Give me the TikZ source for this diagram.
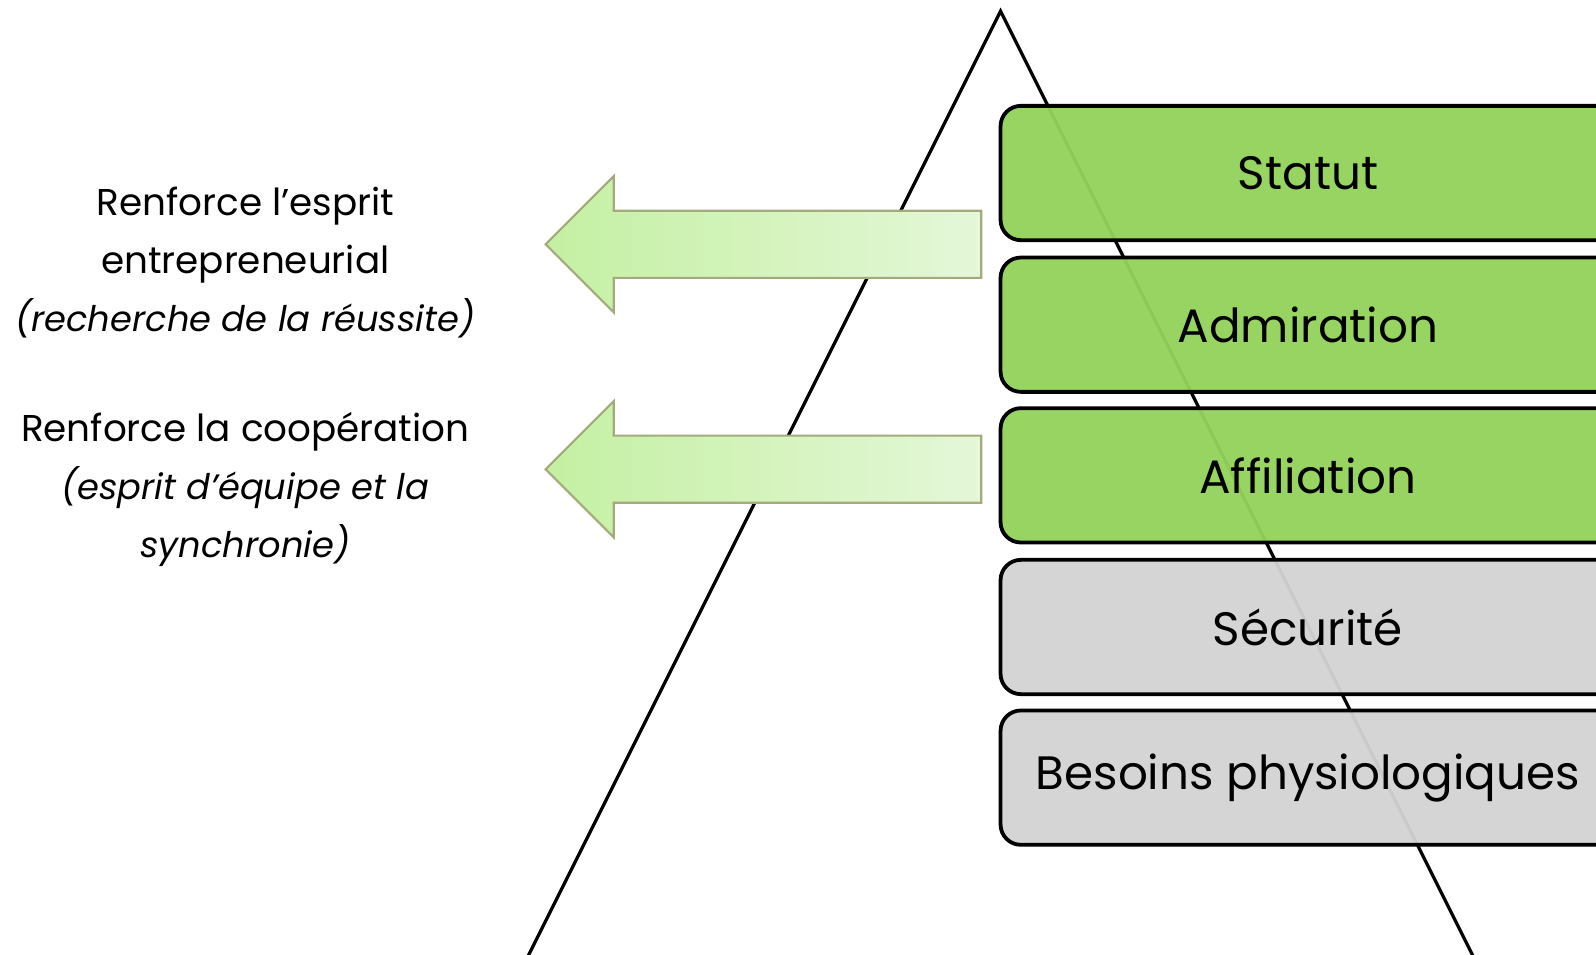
\documentclass[tikz,border=0pt]{standalone}
\usepackage{fontspec}
\setmainfont{Poppins}
\begin{document}
\begin{tikzpicture}[x=0.75pt,y=-0.75pt,
  level/.style={draw=black,line width=2.8pt,rounded corners=15pt,fill opacity=0.96},
  greenlvl/.style={level,fill=boxgreen},
  graylvl/.style={level,fill=boxgray},
  lbl/.style={font=\fontsize{34.5}{40}\selectfont,text=black},
  side/.style={align=center,font=\fontsize{27.5}{42.75}\selectfont},
  bigarrow/.style={draw=arrowedge,line width=1.6pt,shading angle=60,left color=arrowL,right color=arrowR,line join=miter}
]
\definecolor{boxgreen}{RGB}{148,210,92}
\definecolor{boxgray}{RGB}{211,211,211}
\definecolor{arrowL}{RGB}{196,240,162}
\definecolor{arrowR}{RGB}{228,247,216}
\definecolor{arrowedge}{RGB}{164,170,124}
\newcommand{\itl}[1]{{\fontsize{26}{42.75}\selectfont\itshape #1}}
\useasboundingbox (0,0) rectangle (1568,938);
\clip (0,0) rectangle (1568,938);
% triangle
\coordinate (apex) at (983,11);
\coordinate (bl) at (511,955);
\coordinate (br) at (1455,955);
\draw[line width=2.4pt,line join=miter] (bl) -- (apex) -- (br);
% levels
\draw[greenlvl] (983,104) rectangle (1640,236);
\draw[greenlvl] (983,253) rectangle (1640,385);
\draw[greenlvl] (983,401) rectangle (1640,533);
\draw[graylvl] (983,550) rectangle (1640,682);
\draw[graylvl] (983,698) rectangle (1640,830);
\node[lbl] (t1) at (1285,170) {Statut};
\node[lbl] (t2) at (1285,319) {Admiration};
\node[lbl] (t3) at (1285,467) {Affiliation};
\node[lbl] (t4) at (1285,616) {Sécurité};
\node[lbl] (t5) at (1285,764) {Besoins physiologiques};
% arrows
\draw[bigarrow] (964,207) -- (603,207) -- (603,173) -- (536,240) -- (603,307) -- (603,273) -- (964,273) -- cycle;
\draw[bigarrow] (964,428) -- (603,428) -- (603,394) -- (536,461) -- (603,528) -- (603,494) -- (964,494) -- cycle;
% side texts
\node[side] (s1) at (241,258) {Renforce l’esprit\\entrepreneurial\\\itl{(recherche de la réussite)}};
\node[side] (s2) at (241,481) {Renforce la coopération\\\itl{(esprit d’équipe et la}\\\itl{synchronie)}};
\end{tikzpicture}
\end{document}
